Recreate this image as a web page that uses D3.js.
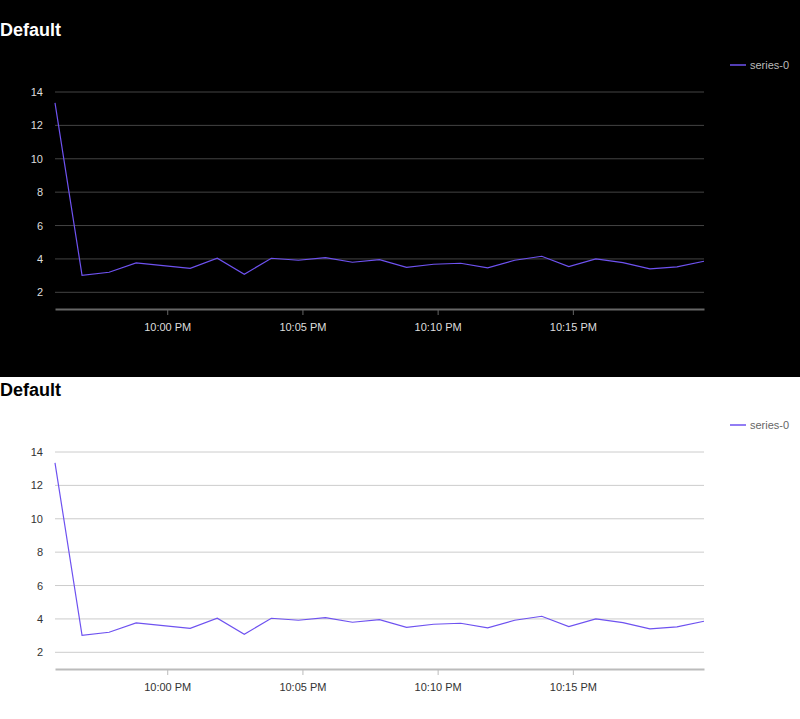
<!DOCTYPE html>
<html>
<head>
<meta charset="UTF-8">
<script src="https://d3js.org/d3.v7.min.js"></script>
<style>
  body { margin: 0; background: #fff; font-family: "Liberation Sans", Arial, sans-serif; }
  svg { display: block; }
</style>
</head>
<body>
<svg id="chart" width="800" height="719"></svg>
<script>
  const startTime = new Date(2024, 0, 1, 21, 55, 51);
  const values = [13.35, 3.02, 3.2, 3.76, 3.6, 3.44, 4.04, 3.08, 4.04, 3.92, 4.08, 3.8, 3.96,
                  3.5, 3.68, 3.74, 3.46, 3.92, 4.16, 3.54, 4.0, 3.78, 3.4, 3.52, 3.86];
  const yTicks = [2, 4, 6, 8, 10, 12, 14];
  const seriesName = "series-0";
  const themes = [
    { off: 0, bg: "#000", fg: "#fff", grid: "#444", axis: "#666", tick: "#ddd", leg: "#bbb" },
    { off: 360, bg: "#fff", fg: "#000", grid: "#ccc", axis: "#bbb", tick: "#333", leg: "#666" }
  ];
  const data = values.map((v, i) => ({ t: new Date(+startTime + i * 60000), v }));

  const x = d3.scaleTime().domain(d3.extent(data, d => d.t)).range([55, 704]);
  const y = d3.scaleLinear().domain([1, 14]).range([309, 92]);
  const svg = d3.select("#chart");

  svg.append("rect").attr("width", 800).attr("height", 377).attr("fill", "#000");

  themes.forEach(th => {
    const g = svg.append("g").attr("transform", `translate(0,${th.off})`);
    g.append("text").attr("x", 0).attr("y", 36).attr("font-size", 18).attr("font-weight", "bold")
      .attr("fill", th.fg).text("Default");

    g.append("g").selectAll("line").data(yTicks).join("line")
      .attr("x1", 55).attr("x2", 704).attr("y1", d => y(d)).attr("y2", d => y(d))
      .attr("stroke", th.grid);
    g.append("g").selectAll("text").data(yTicks).join("text")
      .attr("x", 43).attr("y", d => y(d) + 4).attr("text-anchor", "end")
      .attr("font-size", 11).attr("fill", th.tick).text(d => d);

    const xa = g.append("g").attr("transform", "translate(0,309)")
      .call(d3.axisBottom(x).ticks(d3.timeMinute.every(5)).tickFormat(d3.timeFormat("%-I:%M %p"))
        .tickSizeInner(6).tickSizeOuter(0).tickPadding(8));
    xa.select(".domain").attr("stroke", th.axis).attr("stroke-width", 2);
    xa.selectAll(".tick line").attr("stroke", th.axis);
    xa.selectAll("text").attr("fill", th.tick).attr("font-size", 11)
      .attr("font-family", "'Liberation Sans', Arial, sans-serif");

    g.append("path").datum(data).attr("fill", "none").attr("stroke", "#6e52f0")
      .attr("stroke-width", 1.2)
      .attr("d", d3.line().x(d => x(d.t)).y(d => y(d.v)));

    g.append("line").attr("x1", 730).attr("x2", 746).attr("y1", 65).attr("y2", 65)
      .attr("stroke", "#6e52f0").attr("stroke-width", 1.5);
    g.append("text").attr("x", 750).attr("y", 69).attr("font-size", 11)
      .attr("fill", th.leg).text(seriesName);
  });
</script>
</body>
</html>
